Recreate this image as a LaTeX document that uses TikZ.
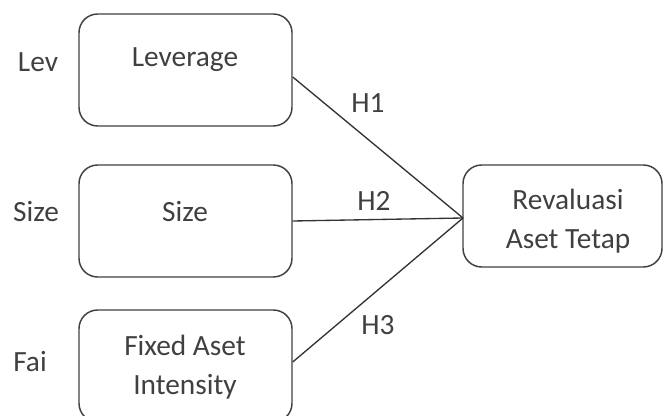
\documentclass[tikz,border=0pt]{standalone}
\usepackage{fontspec}
\setmainfont{Carlito}
\begin{document}
\begin{tikzpicture}[x=0.75pt,y=-0.75pt,
  varbox/.style={draw=black!75,line width=1.1pt,rounded corners=14pt,minimum width=213*0.75pt,minimum height=112*0.75pt,inner sep=0pt},
  txt/.style={text=black!75,font=\fontsize{22}{29}\selectfont,align=center,inner sep=0pt},
  link/.style={draw=black!80,line width=1pt}]
\useasboundingbox (0,0) rectangle (664,416);
\clip (0,0) rectangle (664,416);
% boxes
\node[varbox] (lev) at (185.5,70) {};
\node[varbox] (size) at (185.5,221) {};
\node[varbox] (fai) at (185.5,366) {};
\node[varbox,minimum width=199*0.75pt,minimum height=102*0.75pt] (rev) at (562.5,216) {};
% box texts
\node[txt] (levtxt) at (185,60) {Leverage};
\node[txt] (sizetxt) at (185,212) {Size};
\node[txt] (faitxt) at (185,367) {Fixed Aset\\Intensity};
\node[txt] (revtxt) at (568,221) {Revaluasi\\Aset Tetap};
% side labels
\node[txt] (levlab) at (38,62) {Lev};
\node[txt] (sizelab) at (36,212) {Size};
\node[txt] (failab) at (30,362) {Fai};
% connectors
\coordinate (hub) at (463,218);
\draw[link] ([yshift=-7*0.75pt]lev.east) -- (hub);
\draw[link] (size.east) -- (hub);
\draw[link] ([yshift=4*0.75pt]fai.east) -- (hub);
\node[txt] (h1) at (368,103) {H1};
\node[txt] (h2) at (374,201) {H2};
\node[txt] (h3) at (378,325) {H3};
\end{tikzpicture}
\end{document}
